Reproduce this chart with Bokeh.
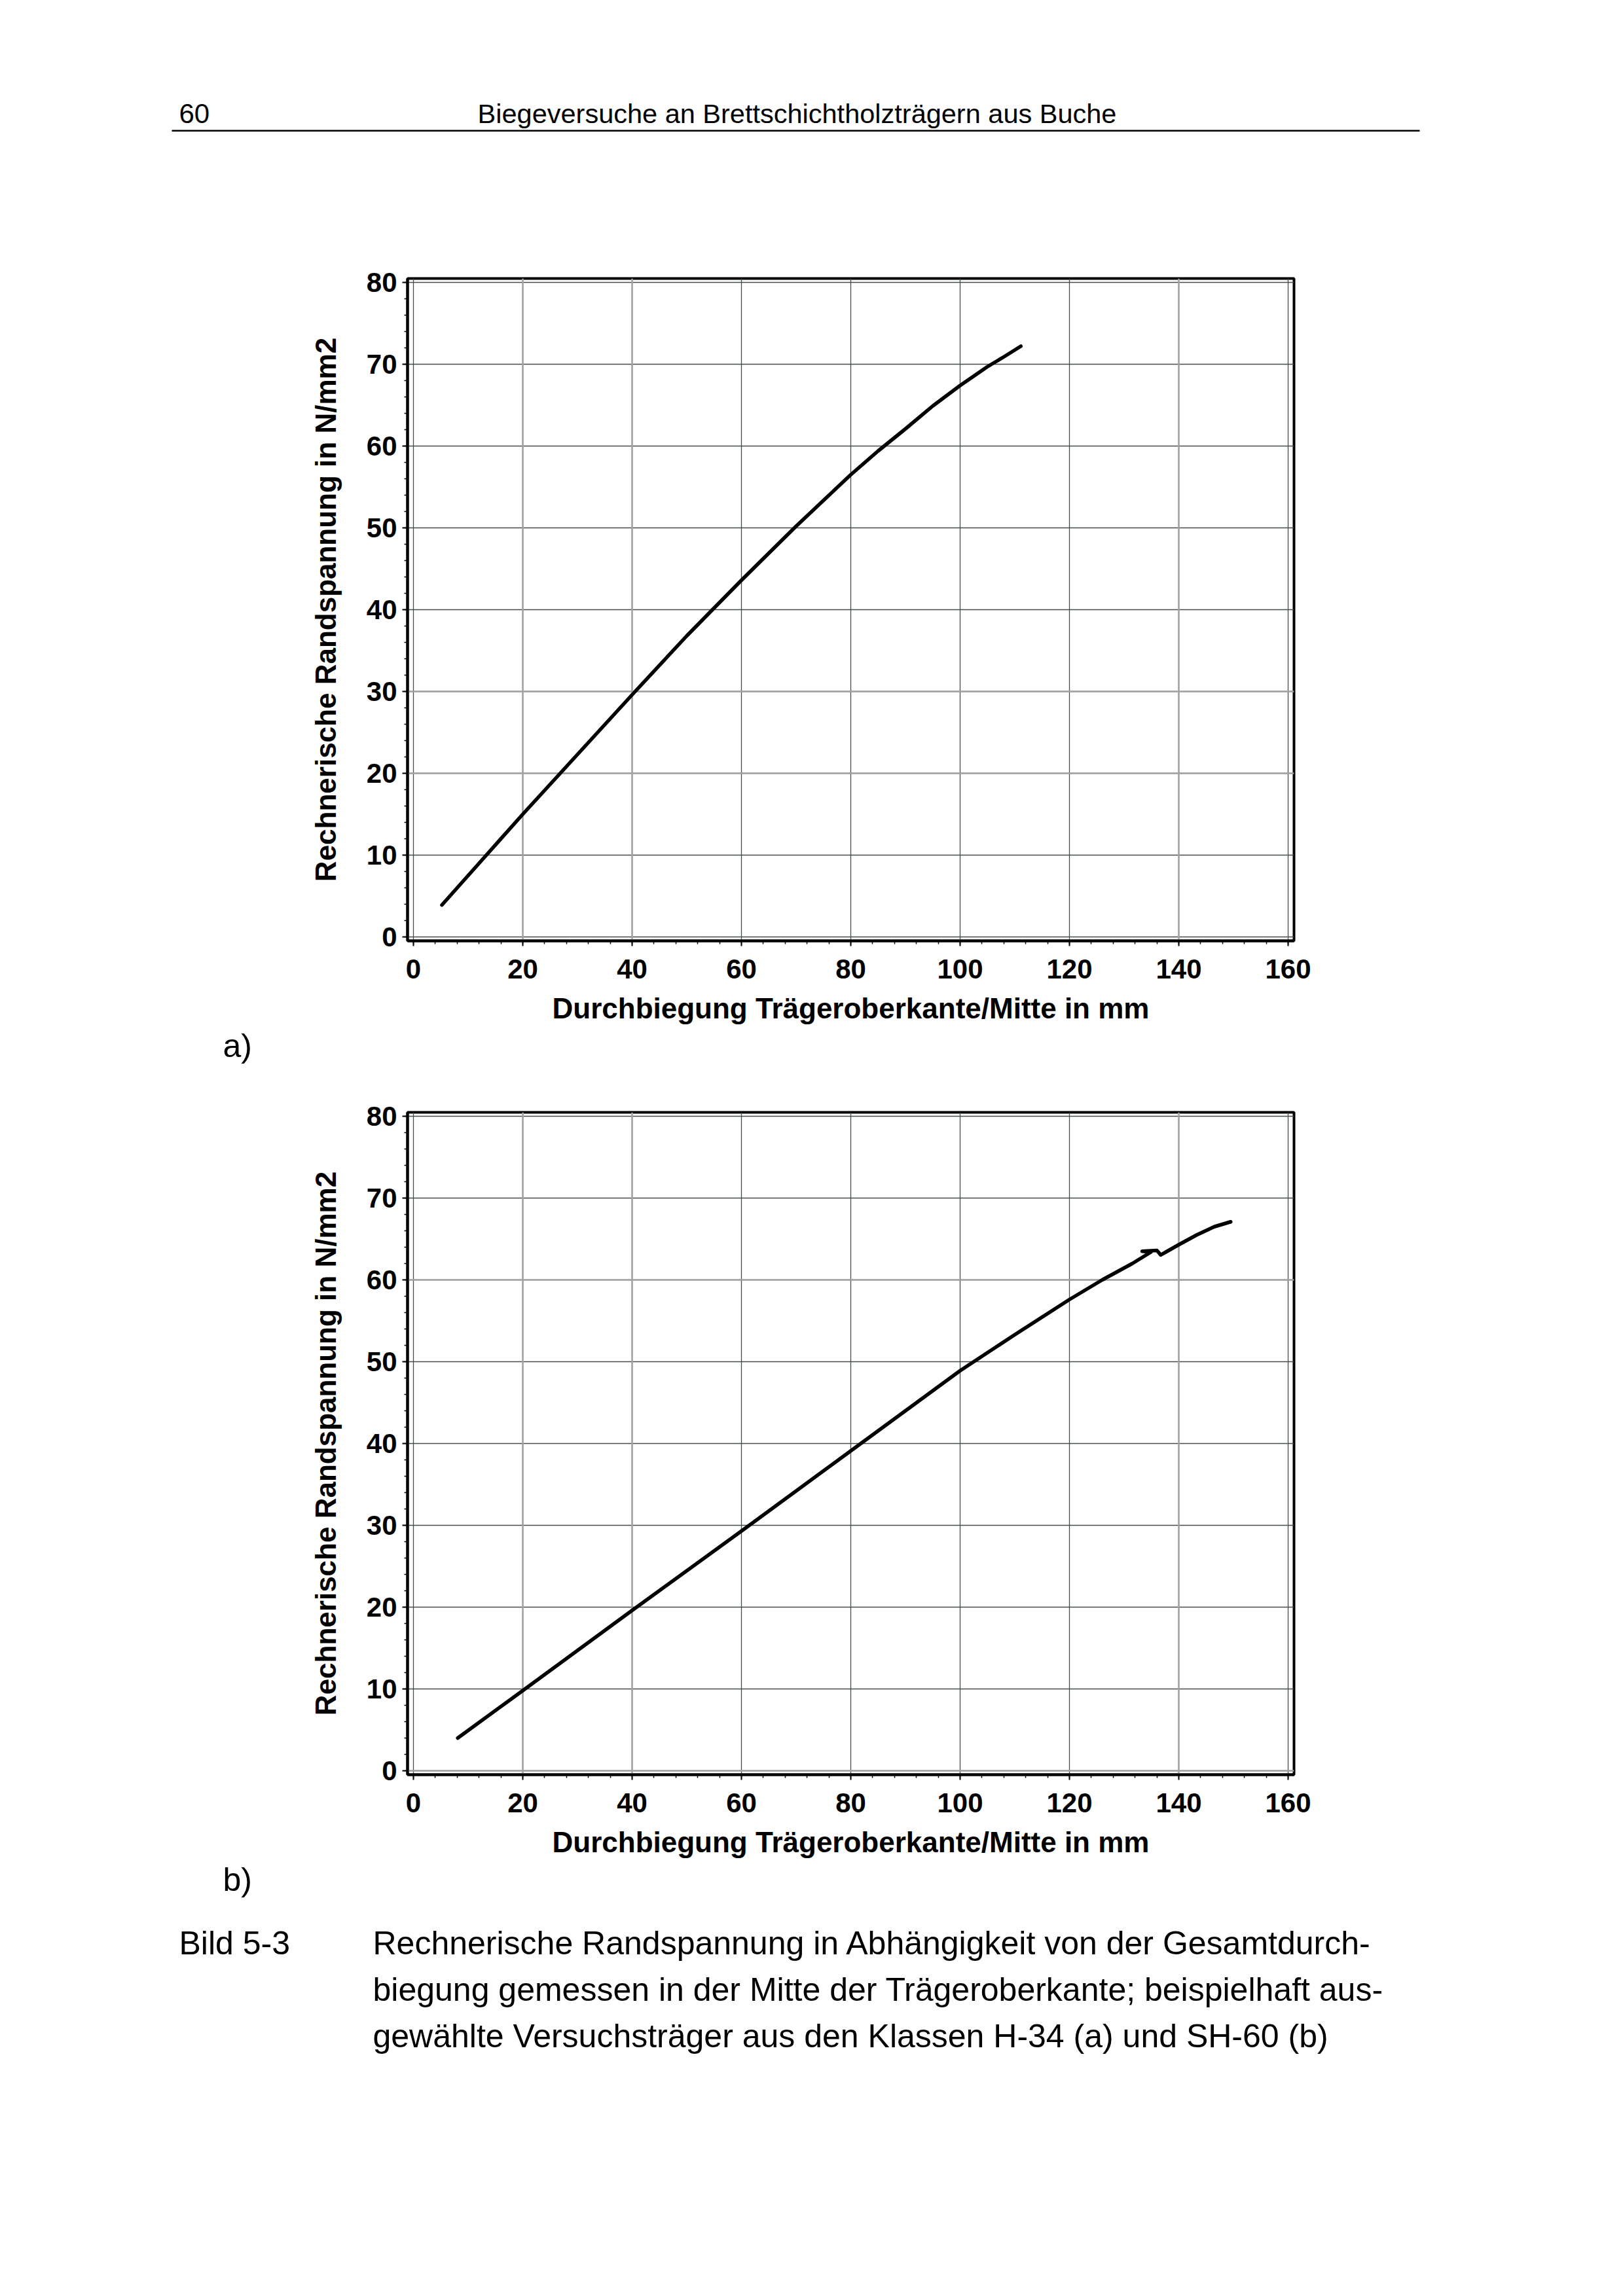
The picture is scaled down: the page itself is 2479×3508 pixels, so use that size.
from bokeh.plotting import figure
from bokeh.models import (Range1d, SingleIntervalTicker, Span, Label,
                          BoxAnnotation, Title)
from bokeh.layouts import column
from bokeh.embed import file_html
from bokeh.resources import INLINE

# ---------------- data ----------------
a_deflection = [5.2, 10.0, 13.2, 20.0, 30.0, 40.0, 50.0, 60.0, 70.0, 80.0,
                85.0, 90.0, 95.0, 100.0, 105.0, 108.0, 111.1]
a_stress = [3.9, 7.5, 9.9, 15.0, 22.3, 29.6, 36.8, 43.6, 50.2, 56.5,
            59.4, 62.1, 64.9, 67.4, 69.7, 70.9, 72.2]

b_deflection = [8.1, 20.0, 40.0, 60.0, 80.0, 90.0, 100.0, 110.0, 120.0, 126.0,
                131.5, 134.9, 133.3, 136.0, 136.7, 140.0, 143.3, 146.5, 149.5]
b_stress = [4.0, 9.8, 19.6, 29.3, 39.1, 44.0, 48.9, 53.3, 57.6, 60.0,
            62.0, 63.4, 63.5, 63.6, 63.05, 64.3, 65.5, 66.5, 67.1]

x_tick_step = 20
y_tick_step = 10

header_page_no = "60"
header_title = "Biegeversuche an Brettschichtholzträgern aus Buche"
x_title = "Durchbiegung Trägeroberkante/Mitte in mm"
y_title = "Rechnerische Randspannung in N/mm2"
label_a = "a)"
label_b = "b)"
caption_label = "Bild 5-3"
caption_lines = [
    "Rechnerische Randspannung in Abhängigkeit von der Gesamtdurch-",
    "biegung gemessen in der Mitte der Trägeroberkante; beispielhaft aus-",
    "gewählte Versuchsträger aus den Klassen H-34 (a) und SH-60 (b)",
]

# light (faded in print) grid lines
light_x_a = [20, 40, 140]
light_y_a = [20, 30]
light_x_b = [20, 40, 140]
light_y_b = [0, 60]

# ---------------- layout constants ----------------
PAGE_W = 2463
FRAME_L = 622
FRAME_R = 487
FONT = "Liberation Sans"
GRID_DARK = "#454c4c"
GRID_LIGHT = "#a3a3a3"


def no_align(p):
    try:
        p.frame_align = False
    except Exception:
        pass


def blank(height):
    # frame == whole canvas; data units == layout pixels (y downwards)
    p = figure(width=PAGE_W, height=height,
               x_range=Range1d(0, PAGE_W), y_range=Range1d(height, 0),
               x_axis_location=None, y_axis_location=None, min_border=0,
               toolbar_location=None, output_backend="svg",
               outline_line_color=None)
    no_align(p)
    p.grid.visible = False
    p.background_fill_color = "white"
    p.border_fill_color = "white"
    return p


def put_text(p, x, y, txt, size, align="left", style="normal"):
    p.add_layout(Label(x=x, y=y, text=txt, text_font=FONT,
                       text_font_size=size, text_font_style=style,
                       text_align=align, text_baseline="alphabetic",
                       text_color="black"))


def make_chart(xs, ys, light_x, light_y, sub_label, height, top, bottom):
    p = figure(width=PAGE_W, height=height, output_backend="svg",
               toolbar_location=None,
               x_range=Range1d(-1.08, 161.08), y_range=Range1d(-0.48, 80.48),
               min_border_left=FRAME_L, min_border_right=FRAME_R,
               min_border_top=top, min_border_bottom=bottom)
    no_align(p)
    p.background_fill_color = "white"
    p.border_fill_color = "white"
    p.outline_line_color = "black"
    p.outline_line_width = 4

    xt = SingleIntervalTicker(interval=x_tick_step, num_minor_ticks=5)
    yt = SingleIntervalTicker(interval=y_tick_step, num_minor_ticks=5)
    p.xaxis.ticker = xt
    p.yaxis.ticker = yt
    p.xgrid.ticker = xt
    p.ygrid.ticker = yt
    p.grid.grid_line_color = GRID_DARK
    p.grid.grid_line_width = 1.3

    for v in light_x:
        p.add_layout(Span(location=v, dimension="height", line_color=GRID_LIGHT,
                          line_width=2.5, level="underlay"))
    for v in light_y:
        p.add_layout(Span(location=v, dimension="width", line_color=GRID_LIGHT,
                          line_width=2.5, level="underlay"))

    p.xaxis.axis_label = x_title
    p.yaxis.axis_label = y_title
    for ax in (p.xaxis[0], p.yaxis[0]):
        ax.axis_line_color = "black"
        ax.axis_line_width = 4
        ax.major_tick_line_color = "black"
        ax.major_tick_line_width = 2
        ax.minor_tick_line_color = "black"
        ax.minor_tick_line_width = 1.5
        ax.major_tick_out = 8
        ax.major_tick_in = 0
        ax.minor_tick_out = 5
        ax.minor_tick_in = 0
        ax.major_label_text_font = FONT
        ax.major_label_text_font_size = "42px"
        ax.major_label_text_font_style = "bold"
        ax.major_label_text_color = "black"
        ax.axis_label_text_font = FONT
        ax.axis_label_text_font_size = "44px"
        ax.axis_label_text_font_style = "bold"
        ax.axis_label_text_color = "black"
    p.xaxis.major_label_standoff = 20
    p.xaxis.axis_label_standoff = 18
    p.yaxis.major_label_standoff = 8
    p.yaxis.axis_label_standoff = 35

    # sub-figure label "a)" / "b)" under the x axis title, at the page's left
    p.add_layout(Title(text=sub_label, align="left", offset=-282, standoff=0,
                       text_font=FONT, text_font_size="50px",
                       text_font_style="normal", text_color="black"), "below")

    p.line(xs, ys, line_color="black", line_width=5.5,
           line_join="round", line_cap="round")
    return p


# header
header = blank(372)
put_text(header, 273, 173, header_page_no, "42px")
put_text(header, 1217, 173, header_title, "41.5px", align="center")
header.add_layout(BoxAnnotation(left=262, right=2168, top=198.0, bottom=200.6,
                                fill_color="black", fill_alpha=1.0,
                                line_color=None, level="overlay"))

chart_a = make_chart(a_deflection, a_stress, light_x_a, light_y_a, label_a,
                     1280, 53, 215)
chart_b = make_chart(b_deflection, b_stress, light_x_b, light_y_b, label_b,
                     1250, 47, 191)

bottom = blank(440)
put_text(bottom, 273, 66, caption_label, "50px")
for i, line in enumerate(caption_lines):
    put_text(bottom, 569, 66 + 71 * i, line, "50px")

page = column(header, chart_a, chart_b, bottom, spacing=0)

open("out.html", "w").write(file_html(page, INLINE))
